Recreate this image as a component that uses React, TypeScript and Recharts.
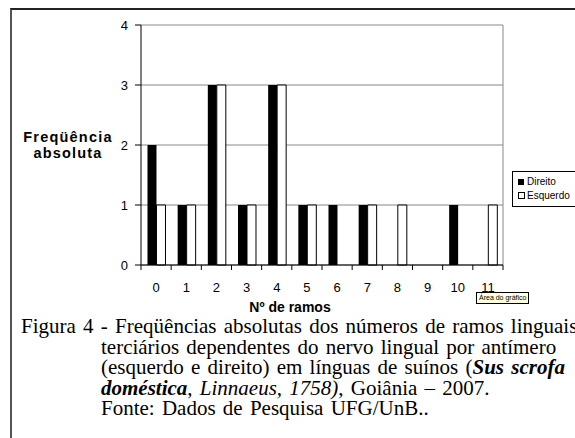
import React from "react";
import { BarChart, Bar, XAxis, YAxis, CartesianGrid, Label } from "recharts";

const ramos = ["0", "1", "2", "3", "4", "5", "6", "7", "8", "9", "10", "11"];
const direito = [2, 1, 3, 1, 3, 1, 1, 1, 0, 0, 1, 0];
const esquerdo = [1, 1, 3, 1, 3, 1, 0, 1, 1, 0, 0, 1];
const yTicks = [0, 1, 2, 3, 4];

const data = ramos.map((r, i) => ({ ramos: r, Direito: direito[i], Esquerdo: esquerdo[i] }));

const sans = '"Liberation Sans", Arial, sans-serif';
const serif = '"Liberation Serif", "Times New Roman", serif';

// tick label at the category centre, tick mark at the category boundary (like Excel)
const XTick = (props: any) => {
  const { x, y, payload, index } = props;
  const half = payload && payload.offset ? payload.offset : 15;
  return (
    <g>
      <line x1={x - half} x2={x - half} y1={y} y2={y + 5} stroke="#000" />
      {index === ramos.length - 1 && (
        <line x1={x + half} x2={x + half} y1={y} y2={y + 5} stroke="#000" />
      )}
      <text x={x} y={y + 27} textAnchor="middle" fontSize={13} fontFamily={sans} fill="#000">
        {payload.value}
      </text>
    </g>
  );
};

const YTitle = (props: any) => {
  const vb = props.viewBox;
  const cx = 68;
  const cy = vb.y + vb.height / 2;
  return (
    <text textAnchor="middle" fontSize={14.5} fontWeight="bold" fontFamily={sans} fill="#000" letterSpacing={1.2}>
      <tspan x={cx} y={cy - 3}>Freqüência</tspan>
      <tspan x={cx} y={cy + 13}>absoluta</tspan>
    </text>
  );
};

const Legenda = () => (
  <div
    style={{
      position: "absolute",
      left: 512,
      top: 171,
      border: "1px solid #000",
      background: "#fff",
      padding: "3px 6px 3px 5px",
      fontSize: 10,
      lineHeight: "14px",
      fontFamily: sans,
      whiteSpace: "nowrap",
    }}
  >
    <div>
      <span style={{ display: "inline-block", width: 6, height: 6, background: "#000", marginRight: 3 }} />
      Direito
    </div>
    <div>
      <span style={{ display: "inline-block", width: 5, height: 5, border: "1px solid #000", marginRight: 2 }} />
      Esquerdo
    </div>
  </div>
);

export default function App() {
  return (
    <div
      style={{
        position: "absolute",
        left: 0,
        top: 0,
        width: 575,
        height: 438,
        overflow: "hidden",
        background: "#fff",
      }}
    >
      <div
        style={{
          position: "absolute",
          left: 10,
          top: 8,
          width: 620,
          height: 500,
          borderTop: "2px solid #222",
          borderLeft: "2px solid #555",
        }}
      />
      <div style={{ position: "absolute", left: 0, top: 0 }}>
        <BarChart
          width={575}
          height={320}
          data={data}
          margin={{ top: 25, right: 72, bottom: 0, left: 0 }}
          barGap={0}
          barCategoryGap="21.5%"
        >
          <CartesianGrid
            stroke="#888"
            verticalCoordinatesGenerator={({ offset }: any) => [offset.left + offset.width]}
          />
          <XAxis
            dataKey="ramos"
            height={55}
            tickSize={0}
            tickMargin={0}
            tickLine={false}
            axisLine={{ stroke: "#000" }}
            tick={<XTick />}
            interval={0}
          >
            <Label
              value="Nº de ramos"
              position="insideBottom"
              offset={8}
              dx={-32}
              fontSize={14}
              fontWeight="bold"
              fontFamily={sans}
              fill="#000"
            />
          </XAxis>
          <YAxis
            width={141}
            domain={[0, 4]}
            ticks={yTicks}
            tickSize={6}
            tickMargin={7}
            axisLine={{ stroke: "#000" }}
            tickLine={{ stroke: "#000" }}
            tick={{ fontSize: 13, fontFamily: sans, fill: "#000" }}
          >
            <Label content={<YTitle />} />
          </YAxis>
          <Bar dataKey="Direito" fill="#000" isAnimationActive={false} />
          <Bar dataKey="Esquerdo" fill="#fff" stroke="#000" strokeWidth={1} isAnimationActive={false} />
        </BarChart>
      </div>
      <Legenda />
      <div
        style={{
          position: "absolute",
          left: 476,
          top: 292,
          background: "#ffffe1",
          border: "1px solid #000",
          padding: "0 2px",
          fontSize: 7,
          lineHeight: "10px",
          fontFamily: sans,
          whiteSpace: "nowrap",
        }}
      >
        Área do gráfico
      </div>
      {/* legenda da figura: parágrafo com recuo deslocado */}
      <div
        style={{
          position: "absolute",
          left: 21,
          top: 316,
          paddingLeft: 80,
          textIndent: -80,
          whiteSpace: "nowrap",
          fontFamily: serif,
          fontSize: 21,
          lineHeight: "20.5px",
          wordSpacing: 2,
        }}
      >
        Figura 4 - Freqüências absolutas dos números de ramos linguais
        <br />
        terciários dependentes do nervo lingual por antímero
        <br />
        (esquerdo e direito) em línguas de suínos (<b><i>Sus scrofa</i></b>
        <br />
        <b><i>doméstica</i></b>, <i>Linnaeus, 1758)</i>, Goiânia – 2007.
        <br />
        Fonte: Dados de Pesquisa UFG/UnB..
      </div>
    </div>
  );
}
